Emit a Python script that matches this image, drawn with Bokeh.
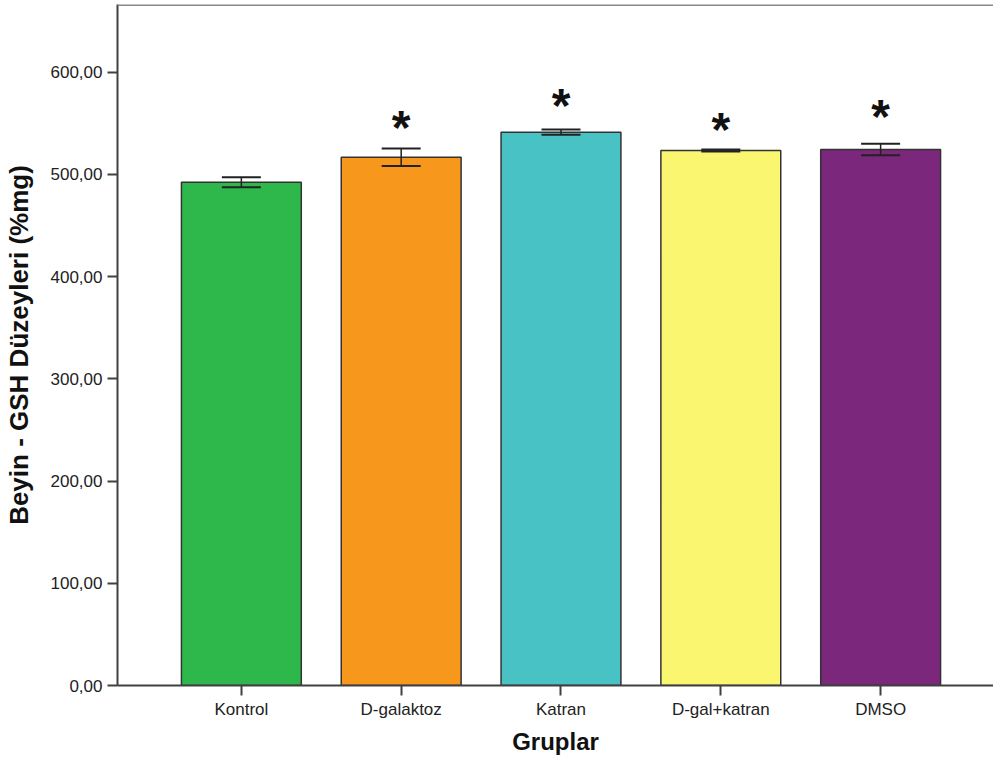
from bokeh.plotting import figure
from bokeh.models import ColumnDataSource, FixedTicker, Range1d, Whisker, Span
from bokeh.core.properties import value
from bokeh.embed import file_html
from bokeh.resources import INLINE

groups = ["Kontrol", "D-galaktoz", "Katran", "D-gal+katran", "DMSO"]
means = [492.4, 516.8, 541.3, 523.4, 524.4]
errors = [4.9, 8.5, 2.6, 1.0, 5.6]
colors = ["#2EB84B", "#F7981D", "#48C2C5", "#FAF670", "#7B277B"]
star_groups = ["D-galaktoz", "Katran", "D-gal+katran", "DMSO"]
star_y = [550, 571, 548, 561]
y_ticks = [0, 100, 200, 300, 400, 500, 600]
y_tick_labels = ["0,00", "100,00", "200,00", "300,00", "400,00", "500,00", "600,00"]

xs = [i + 1 for i in range(len(groups))]
src = ColumnDataSource(dict(
    x=xs, top=means, color=colors,
    upper=[m + e for m, e in zip(means, errors)],
    lower=[m - e for m, e in zip(means, errors)],
))
star_src = ColumnDataSource(dict(
    x=[groups.index(g) + 1 for g in star_groups], y=star_y,
    t=["*"] * len(star_groups),
))

FONT = "Liberation Sans"
# frame: left 116, right 993, top 4, bottom 685
p = figure(width=993, height=757, output_backend="svg", toolbar_location=None,
           x_range=Range1d(0.225, 0.225 + 877 / 160), y_range=Range1d(0, 681 / 1.02222),
           min_border_left=116, min_border_right=0, min_border_top=4,
           min_border_bottom=72)
p.background_fill_color = "white"
p.border_fill_color = "white"
p.outline_line_color = None
p.xgrid.visible = False
p.ygrid.visible = False

p.vbar(x="x", top="top", bottom=0, width=0.75, fill_color="color",
       line_color="#333333", line_width=1.5, source=src)

w = Whisker(base="x", upper="upper", lower="lower", source=src,
            line_color="#222222", line_width=1.5, dimension="height",
            level="overlay")
w.upper_head.size = 39
w.lower_head.size = 39
w.upper_head.line_color = "#222222"
w.lower_head.line_color = "#222222"
w.upper_head.line_width = 2
w.lower_head.line_width = 2
p.add_layout(w)

p.text(x="x", y="y", text="t", source=star_src, text_align="center",
       text_baseline="middle", text_font=value(FONT), text_font_size="48px",
       text_font_style="bold", text_color="#111111", y_offset=4)

p.add_layout(Span(location=681 / 1.02222, dimension="width", line_color="#888888",
                  line_width=3))

p.xaxis.ticker = FixedTicker(ticks=xs)
p.xaxis.major_label_overrides = {x: g for x, g in zip(xs, groups)}
p.yaxis.ticker = FixedTicker(ticks=y_ticks)
p.yaxis.major_label_overrides = {t: l for t, l in zip(y_ticks, y_tick_labels)}

for ax in (p.xaxis[0], p.yaxis[0]):
    ax.axis_line_color = "#404040"
    ax.axis_line_width = 2
    ax.major_tick_line_color = "#404040"
    ax.major_tick_line_width = 2
    ax.major_tick_in = 0
    ax.major_tick_out = 10
    ax.minor_tick_line_color = None
    ax.major_label_text_font = FONT
    ax.major_label_text_font_size = "17px"
    ax.major_label_text_color = "#222222"
    ax.axis_label_text_font = FONT
    ax.axis_label_text_font_style = "bold"
    ax.axis_label_text_color = "#111111"

p.xaxis.axis_label = "Gruplar"
p.yaxis.axis_label = "Beyin - GSH Düzeyleri (%mg)"
p.xaxis.axis_label_text_font_size = "24px"
p.yaxis.axis_label_text_font_size = "26px"
p.xaxis.major_label_standoff = 4
p.xaxis.axis_label_standoff = 6
p.yaxis.major_label_standoff = 5
p.yaxis.axis_label_standoff = 14

open("out.html", "w").write(file_html(p, INLINE))
